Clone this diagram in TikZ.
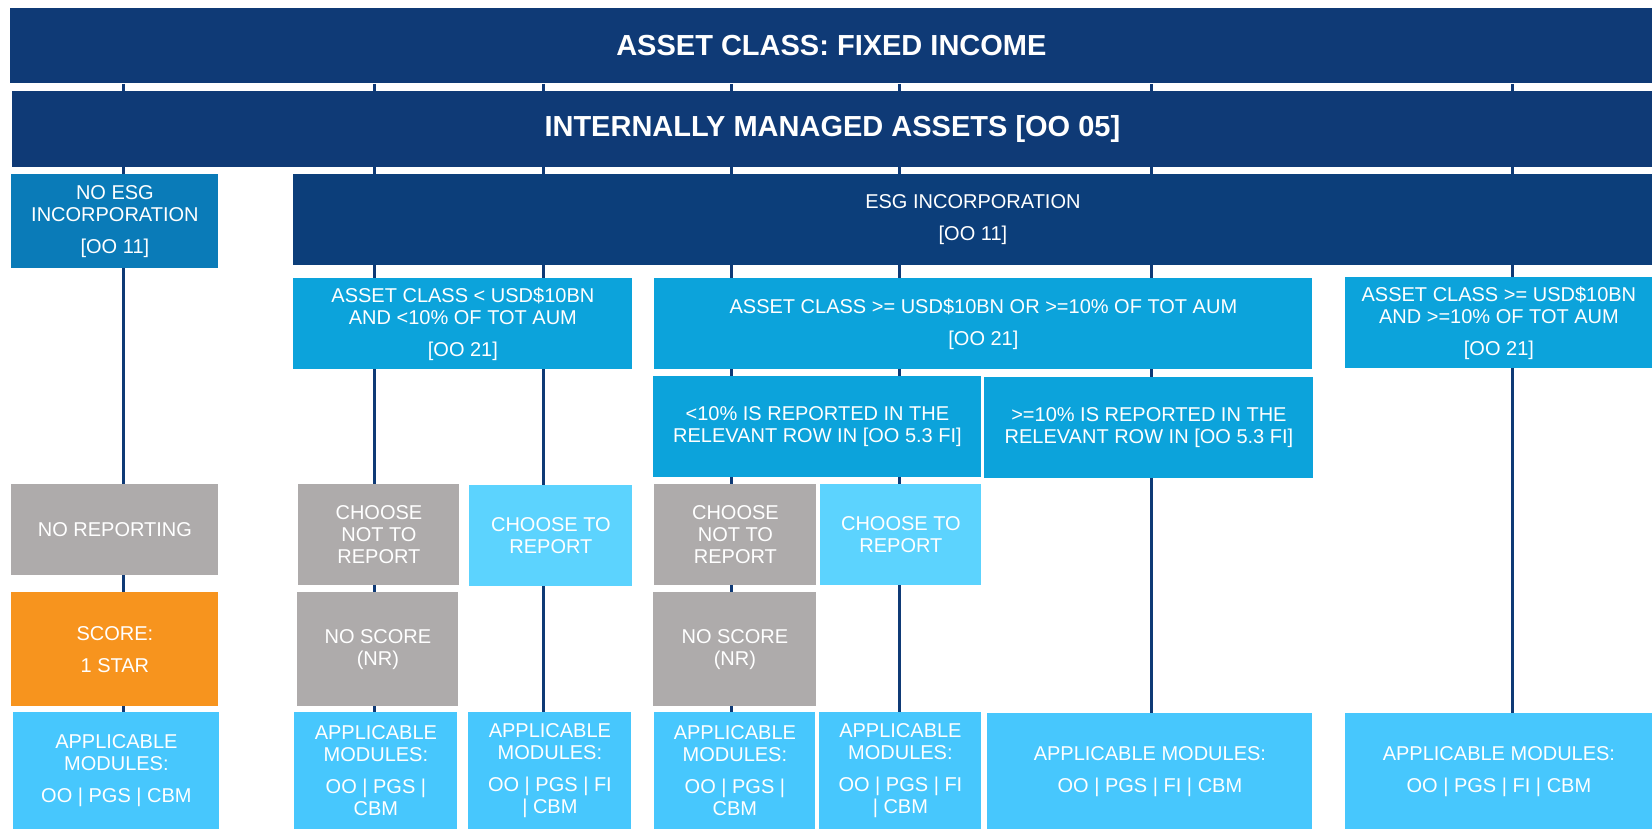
\documentclass[tikz,border=0pt]{standalone}
\usepackage{fontspec}
\setmainfont{Liberation Sans}
\usetikzlibrary{backgrounds}

\definecolor{darkNavy}{HTML}{0F3A76}
\definecolor{esgNavy}{HTML}{0C3E7A}
\definecolor{midBlue}{HTML}{0A7BB8}
\definecolor{skyBlue}{HTML}{0CA3DB}
\definecolor{lightCyan}{HTML}{5CD3FE}
\definecolor{modCyan}{HTML}{47C7FD}
\definecolor{softGray}{HTML}{AEABAB}
\definecolor{starOrange}{HTML}{F7941E}

\tikzset{
	box/.style={rectangle, anchor=north west, inner sep=2pt, text=white, align=center, font=\fontsize{10}{11}\selectfont},
	dims/.style 2 args={minimum width=#1*0.5pt, minimum height=#2*0.5pt},
	bar/.style={box, fill=darkNavy, font=\fontsize{14.5}{16}\selectfont\bfseries},
	link/.style={draw=darkNavy, line width=1.5pt}
}

\begin{document}
\begin{tikzpicture}[x=0.5pt, y=-0.5pt]
	\useasboundingbox (0,0) rectangle (1652,829);

	% Kopf
	\node[bar, dims={1642}{75}] (assetclass) at (10,8) {ASSET CLASS: FIXED INCOME};
	\node[bar, dims={1640}{76}] (internal) at (12,91) {INTERNALLY MANAGED ASSETS [OO 05]};

	% ESG
	\node[box, fill=midBlue, dims={207}{94}] (noesg) at (11,174) {NO ESG\\INCORPORATION\\[5pt][OO 11]};
	\node[box, fill=esgNavy, dims={1359}{91}] (esg) at (293,174) {ESG INCORPORATION\\[5pt][OO 11]};

	% Groesse der Anlageklasse
	\node[box, fill=skyBlue, dims={339}{91}] (small) at (293,278) {ASSET CLASS < USD\$10BN\\AND <10\% OF TOT AUM\\[5pt][OO 21]};
	\node[box, fill=skyBlue, dims={658}{91}] (mid) at (654,278) {ASSET CLASS >= USD\$10BN OR >=10\% OF TOT AUM\\[5pt][OO 21]};
	\node[box, fill=skyBlue, dims={307}{91}] (large) at (1345,277) {ASSET CLASS >= USD\$10BN\\AND >=10\% OF TOT AUM\\[5pt][OO 21]};
	\node[box, fill=skyBlue, dims={328}{101}] (below) at (653,376) {<10\% IS REPORTED IN THE\\RELEVANT ROW IN [OO 5.3 FI]};
	\node[box, fill=skyBlue, dims={329}{101}] (above) at (984,377) {>=10\% IS REPORTED IN THE\\RELEVANT ROW IN [OO 5.3 FI]};

	% Berichten
	\node[box, fill=softGray, dims={207}{91}] (noreport) at (11,484) {NO REPORTING};
	\node[box, fill=softGray, dims={161}{101}] (notrepA) at (298,484) {CHOOSE\\NOT TO\\REPORT};
	\node[box, fill=lightCyan, dims={163}{101}] (repA) at (469,485) {CHOOSE TO\\REPORT};
	\node[box, fill=softGray, dims={162}{101}] (notrepB) at (654,484) {CHOOSE\\NOT TO\\REPORT};
	\node[box, fill=lightCyan, dims={161}{101}] (repB) at (820,484) {CHOOSE TO\\REPORT};

	% Bewertung
	\node[box, fill=starOrange, dims={207}{114}] (star) at (11,592) {SCORE:\\[5pt]1 STAR};
	\node[box, fill=softGray, dims={161}{114}] (noscoreA) at (297,592) {NO SCORE\\(NR)};
	\node[box, fill=softGray, dims={163}{114}] (noscoreB) at (653,592) {NO SCORE\\(NR)};

	% Module
	\node[box, fill=modCyan, dims={206}{117}] (appA) at (13,712) {APPLICABLE\\MODULES:\\[5pt]OO | PGS | CBM};
	\node[box, fill=modCyan, dims={163}{117}] (appB) at (294,712) {APPLICABLE\\MODULES:\\[5pt]OO | PGS |\\CBM};
	\node[box, fill=modCyan, dims={163}{117}] (appC) at (468,712) {APPLICABLE\\MODULES:\\[5pt]OO | PGS | FI\\| CBM};
	\node[box, fill=modCyan, dims={161}{117}] (appD) at (654,712) {APPLICABLE\\MODULES:\\[5pt]OO | PGS |\\CBM};
	\node[box, fill=modCyan, dims={162}{117}] (appE) at (819,712) {APPLICABLE\\MODULES:\\[5pt]OO | PGS | FI\\| CBM};
	\node[box, fill=modCyan, dims={325}{116}] (appF) at (987,713) {APPLICABLE MODULES:\\[5pt]OO | PGS | FI | CBM};
	\node[box, fill=modCyan, dims={307}{116}] (appG) at (1345,713) {APPLICABLE MODULES:\\[5pt]OO | PGS | FI | CBM};

	% Linien hinter den Kaesten
	\begin{scope}[on background layer]
		\foreach \x/\n in {123/appA, 374/appB, 543/appC, 731/appD, 899/appE, 1151/appF, 1512/appG}
			\draw[link] (assetclass.south -| \x,0) -- (\n.north -| \x,0);
	\end{scope}
\end{tikzpicture}
\end{document}
